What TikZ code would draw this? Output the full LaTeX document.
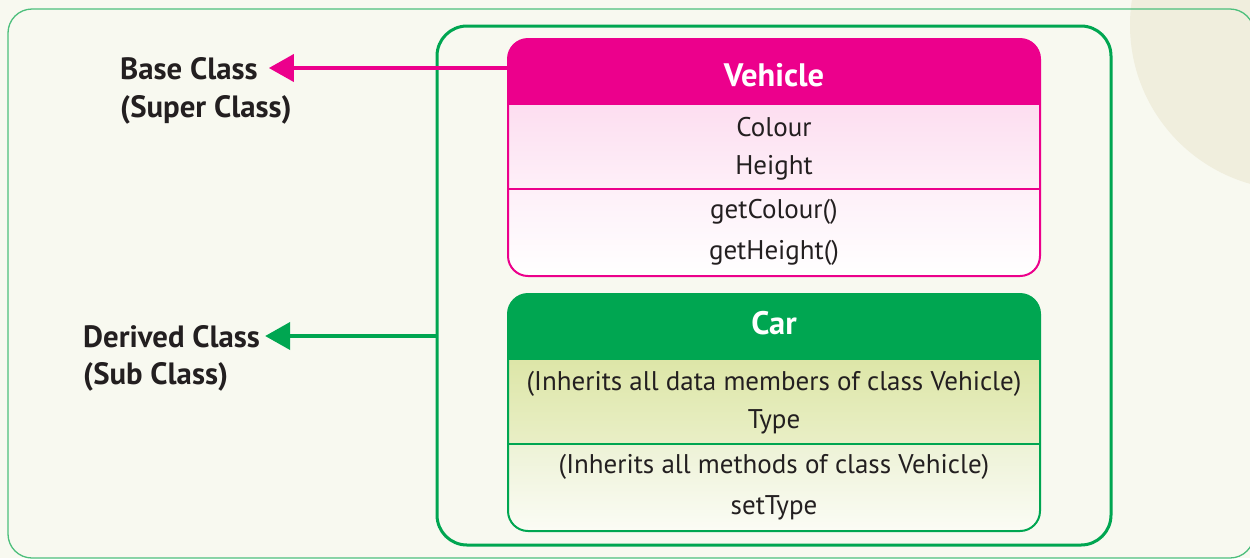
\documentclass[tikz,border=0pt]{standalone}
\usepackage{fontspec}
\setmainfont{PT Sans}
\usetikzlibrary{arrows.meta}
\definecolor{mag}{HTML}{EC008C}
\definecolor{grn}{HTML}{00A651}
\definecolor{outerg}{HTML}{4DBF7C}
\definecolor{bgc}{HTML}{F8F9F0}
\definecolor{circc}{HTML}{F0EEDD}
\definecolor{txtc}{HTML}{231F20}
\definecolor{ca}{HTML}{DDE6A8}
\definecolor{cb}{HTML}{E9EFC6}
\definecolor{cc}{HTML}{EDF2D6}
\definecolor{cd}{HTML}{FBFCF5}
\begin{document}
\begin{tikzpicture}[x=1pt,y=-1pt,
  body/.style={font=\fontsize{27}{32}\selectfont, text=txtc, inner sep=0pt},
  head/.style={font=\fontsize{32.5}{38}\selectfont\bfseries, text=white, inner sep=0pt},
  lbl/.style={font=\fontsize{30.8}{36}\selectfont\bfseries, text=txtc, inner xsep=5pt, inner ysep=0pt, anchor=west},
  arr/.style={line width=4pt, -{Triangle[length=25pt,width=27pt]}}
]
\useasboundingbox (0,0) rectangle (1250,558);
\fill[bgc] (0,0) rectangle (1250,558);
\fill[circc] (1295,25) circle (165);
% outer frame
\draw[outerg, line width=1.3pt, rounded corners=24pt] (8,9) rectangle (1254,558);
% inner green frame
\draw[grn, line width=3pt, rounded corners=30pt] (437,26) rectangle (1111,545);

% Vehicle class box
\begin{scope}
  \clip[rounded corners=20pt] (508,39) rectangle (1040,276);
  \fill[mag] (508,39) rectangle (1040,105);
  \shade[top color=mag!13, bottom color=mag!6] (508,105) rectangle (1040,189);
  \shade[top color=mag!6, bottom color=white] (508,189) rectangle (1040,276);
\end{scope}
\draw[mag, line width=2pt] (508,189) -- (1040,189);
\draw[mag, line width=2pt, rounded corners=20pt] (508,39) rectangle (1040,276);
\node[head] (vname) at (774,75) {Vehicle};
\node[body] (colour) at (774,127) {Colour};
\node[body] (height) at (774,168) {Height};
\node[body] (getc) at (774,212) {getColour()};
\node[body] (geth) at (774,253) {getHeight()};

% Car class box
\begin{scope}
  \clip[rounded corners=20pt] (508,294) rectangle (1040,531);
  \fill[grn] (508,294) rectangle (1040,360);
  \shade[top color=ca, bottom color=cb] (508,360) rectangle (1040,444);
  \shade[top color=cc, bottom color=cd] (508,444) rectangle (1040,531);
\end{scope}
\draw[grn, line width=2pt] (508,444) -- (1040,444);
\draw[grn, line width=2pt, rounded corners=20pt] (508,294) rectangle (1040,531);
\node[head] (cname) at (774,323) {Car};
\node[body] (inhd) at (774,384) {(Inherits all data members of class Vehicle)};
\node[body] (type) at (774,422) {Type};
\node[body] (inhm) at (774,467) {(Inherits all methods of class Vehicle)};
\node[body] (settype) at (774,508) {setType};

% labels
\node[lbl] (base) at (115,69) {Base Class};
\node[lbl] (super) at (115,110) {(Super Class)};
\node[lbl] (derived) at (78,337) {Derived Class};
\node[lbl] (sub) at (78,377) {(Sub Class)};

% connectors
\coordinate (vstart) at (508,68);
\coordinate (cstart) at (437,336);
\draw[arr, mag] (vstart) -- ([xshift=6pt]base.east |- vstart);
\draw[arr, grn] (cstart) -- (derived.east |- cstart);
\end{tikzpicture}
\end{document}
